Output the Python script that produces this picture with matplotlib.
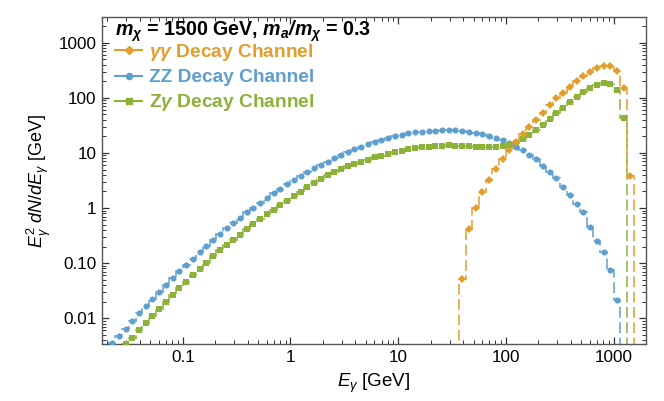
import numpy as np
import matplotlib
matplotlib.use('Agg')
import matplotlib.pyplot as plt
from matplotlib.lines import Line2D
from matplotlib.ticker import FixedLocator, FixedFormatter, LogLocator, NullFormatter

plt.rcParams['font.family'] = ['Liberation Sans', 'DejaVu Sans']
plt.rcParams['mathtext.fontset'] = 'custom'
plt.rcParams['mathtext.rm'] = 'Liberation Sans'
plt.rcParams['mathtext.it'] = 'Liberation Sans:italic'
plt.rcParams['mathtext.bf'] = 'Liberation Sans:bold'
plt.rcParams['mathtext.bfit'] = 'Liberation Sans:bold:italic'

# bins are log spaced, 16 per decade; first bin index k -> edge 10**(k/16)
BINS_PER_DECADE = 16

# ZZ channel, first bin k = -28
ZZ_START = -28
ZZ = [0.00257, 0.00352, 0.00478, 0.00647, 0.00893, 0.01233, 0.01671, 0.0227,
      0.0300, 0.0397, 0.0532, 0.0713, 0.0927, 0.121, 0.160, 0.2065, 0.264,
      0.335, 0.430, 0.543, 0.670, 0.839, 1.016, 1.253, 1.545, 1.858, 2.249,
      2.735, 3.236, 3.828, 4.581, 5.272, 6.053, 6.950, 8.017, 9.204, 10.57,
      11.67, 13.00, 14.39, 15.85, 17.22, 18.97, 20.37, 21.38, 22.80, 23.77,
      24.38, 25.06, 25.41, 25.82, 25.82, 25.82, 25.06, 24.38, 23.33, 22.13,
      20.37, 18.71, 17.02, 15.38, 13.00, 11.32, 9.12, 7.69, 5.81, 4.52, 3.48,
      2.44, 1.73, 1.17, 0.839, 0.459, 0.256, 0.158, 0.0753, 0.0215]

# Z gamma channel, first bin k = -26
ZG_START = -26
ZG = [0.00251, 0.00337, 0.00445, 0.00605, 0.00811, 0.01102, 0.01476, 0.01977,
      0.0261, 0.0350, 0.0456, 0.0603, 0.0774, 0.101, 0.133, 0.174, 0.214,
      0.264, 0.325, 0.412, 0.514, 0.634, 0.771, 0.925, 1.125, 1.361, 1.66,
      1.995, 2.40, 2.88, 3.39, 3.94, 4.52, 5.13, 5.69, 6.31, 6.95, 7.55, 8.32,
      8.95, 9.59, 10.47, 11.02, 11.75, 12.33, 12.68, 12.85, 13.24, 13.40,
      13.80, 13.40, 13.24, 13.24, 13.00, 12.68, 12.68, 13.00, 13.40, 13.96,
      15.38, 17.74, 20.89, 26.12, 31.84, 40.93, 52.48, 64.71, 83.18, 103.8,
      129.7, 151.4, 171.4, 188.8, 176.6, 139.0, 42.66]

# gamma gamma channel, first bin k = 25
GG_START = 25
GG = [0.0516, 0.412, 0.991, 1.919, 3.236, 5.129, 7.78, 11.32, 16.03, 22.13,
      29.79, 39.72, 53.83, 74.30, 98.4, 124.2, 159.6, 202.8, 249.5, 298.5,
      344.4, 383.7, 383.7, 311.9, 149.3, 3.83]

C_GG = '#E39D2B'
C_ZZ = '#5E9FCF'
C_ZG = '#8DB23A'

fig = plt.figure(figsize=(6.64, 4.01), dpi=100)
ax = fig.add_axes([0.1536, 0.142, 0.8194, 0.815])


def draw(vals, start, color, marker, ms):
    vals = np.array(vals)
    edges = 10 ** (np.arange(start, start + len(vals) + 1) / BINS_PER_DECADE)
    centers = np.sqrt(edges[:-1] * edges[1:])
    ax.stairs(vals, edges, baseline=1e-6, color=color, lw=1.3,
              linestyle=(0, (6, 2.5)), alpha=0.85, zorder=2)
    ax.plot(centers, vals, linestyle='none', marker=marker, ms=ms,
            color=color, markeredgewidth=0, zorder=3)


draw(ZZ, ZZ_START, C_ZZ, 'o', 4.4)
draw(ZG, ZG_START, C_ZG, 's', 4.3)
draw(GG, GG_START, C_GG, 'D', 4.2)

ax.set_xscale('log')
ax.set_yscale('log')
ax.set_xlim(10 ** -1.75, 2000)
ax.set_ylim(0.0034, 2900)

ax.xaxis.set_major_locator(FixedLocator([0.1, 1, 10, 100, 1000]))
ax.xaxis.set_major_formatter(FixedFormatter(['0.1', '1', '10', '100', '1000']))
ax.yaxis.set_major_locator(FixedLocator([0.01, 0.1, 1, 10, 100, 1000]))
ax.yaxis.set_major_formatter(FixedFormatter(['0.01', '0.10', '1', '10', '100', '1000']))
for a in (ax.xaxis, ax.yaxis):
    a.set_minor_locator(LogLocator(base=10, subs=np.arange(2, 10), numticks=20))
    a.set_minor_formatter(NullFormatter())

ax.tick_params(which='both', direction='in', top=True, right=True,
               colors='#333333', labelcolor='black', labelsize=12.3)
ax.tick_params(which='major', length=5, width=0.9, pad=4)
ax.tick_params(which='minor', length=3, width=0.7)
for s in ax.spines.values():
    s.set_color('#555555')
    s.set_linewidth(1.0)

ax.set_xlabel(r'$E_\gamma$ [GeV]', fontsize=13.5, labelpad=5)
ax.set_ylabel(r'$E_\gamma^2\ dN/dE_\gamma$ [GeV]', fontsize=13, labelpad=4)

# header line of the legend
ax.text(0.024, 0.9449,
        r'$\mathbfit{m_\chi}$ = 1500 GeV, $\mathbfit{m_a/m_\chi}$ = 0.3',
        transform=ax.transAxes, fontsize=14.1, fontweight='bold',
        va='baseline', ha='left')

handles = [
    Line2D([], [], color=C_GG, marker='D', ms=4.2, lw=1.5),
    Line2D([], [], color=C_ZZ, marker='o', ms=4.4, lw=1.5),
    Line2D([], [], color=C_ZG, marker='s', ms=4.3, lw=1.5),
]
labels = [r'$\mathbfit{\gamma\gamma}$ Decay Channel',
          r'ZZ Decay Channel',
          r'Z$\mathbfit{\gamma}$ Decay Channel']
leg = ax.legend(handles, labels, loc='upper left', frameon=False,
                bbox_to_anchor=(0.0232, 0.9252),
                prop={'weight': 'bold', 'size': 13.8}, labelcolor='linecolor',
                handlelength=1.45, handletextpad=0.35, labelspacing=0.32,
                borderaxespad=0.0, borderpad=0.0)

fig.savefig('out.png', dpi=100)
